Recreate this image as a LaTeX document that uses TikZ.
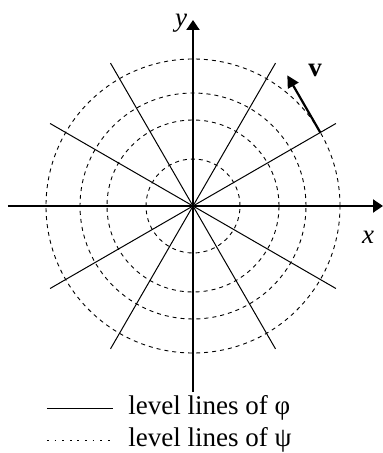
\documentclass[tikz,border=0pt]{standalone}
\usepackage{fontspec}
\setmainfont{Liberation Serif}
\usetikzlibrary{arrows.meta,calc}

\begin{document}
\begin{tikzpicture}[
  x=0.5pt, y=0.5pt,
  font=\fontsize{13.5}{16}\selectfont,
  axis/.style={line width=1pt, -{Triangle[length=5pt, width=6.5pt]}},
  philine/.style={line width=0.5pt},
  psiline/.style={line width=0.45pt, dash pattern=on 2pt off 2pt},
  legdots/.style={line width=0.5pt, dash pattern=on 0.9pt off 2.9pt},
  vec/.style={line width=1.1pt, -{Triangle[length=6pt, width=6pt]}},
  lbl/.style={inner sep=1pt},
]
  \useasboundingbox (-193,-247) rectangle (190,206);

  \coordinate (o) at (0,0);

  % level lines of psi
  \foreach \r in {47,86,113,147}
    \draw[psiline] (o) circle[radius=\r];

  % level lines of phi
  \foreach \a in {30,60,120,150,210,240,300,330}
    \draw[philine] (o) -- (\a:165);

  % axes
  \coordinate (xs) at (-185,0);
  \coordinate (xe) at (190,0);
  \coordinate (ys) at (0,-186);
  \coordinate (ye) at (0,186);
  \draw[axis] (xs) -- (xe);
  \draw[axis] (ys) -- (ye);
  \node[lbl] (xlab) at (175,-31) {\textit{x}};
  \node[lbl] (ylab) at (-12,183) {\textit{y}};

  % velocity vector
  \coordinate (vs) at (30:147);
  \coordinate (ve) at ($(vs)+(120:66)$);
  \draw[vec] (vs) -- (ve);
  \node[lbl] (vlab) at (122,136) {\textbf{v}};

  % legend
  \coordinate (l1a) at (-146,-202);
  \coordinate (l1b) at (-80,-202);
  \coordinate (l2a) at (-146,-234);
  \coordinate (l2b) at (-80,-234);
  \draw[philine] (l1a) -- (l1b);
  \draw[legdots] (l2a) -- (l2b);
  \node[anchor=west, inner sep=0pt] (leg1) at (-65,-202) {level lines of φ};
  \node[anchor=west, inner sep=0pt] (leg2) at (-65,-234) {level lines of ψ};
\end{tikzpicture}
\end{document}
